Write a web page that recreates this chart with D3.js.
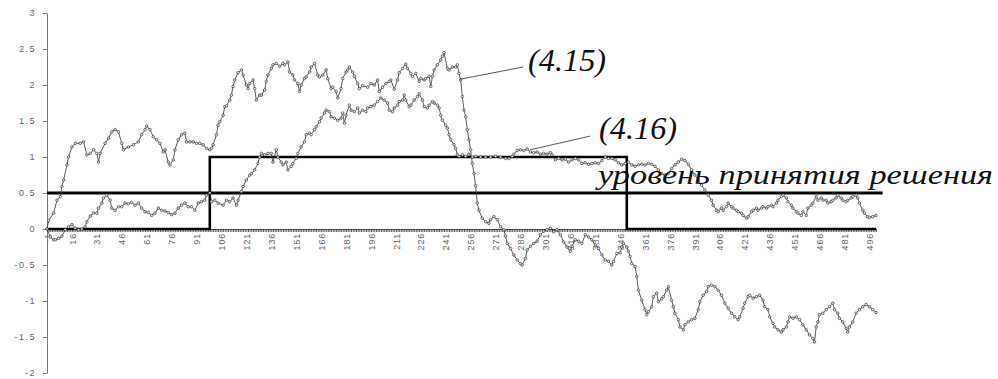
<!DOCTYPE html>
<html>
<head>
<meta charset="utf-8">
<script src="https://cdn.jsdelivr.net/npm/d3@7/dist/d3.min.js"></script>
<style>
  body { margin: 0; background: #fff; }
  svg { display: block; }
  .tick text { font-family: "Liberation Sans", Arial, sans-serif; }
  .label { font-family: "Liberation Serif", "Times New Roman", serif; font-style: italic; fill: #111; }
</style>
</head>
<body>
<svg id="chart" width="998" height="379"></svg>
<script>
// Category axis: step index 1..500, labelled every 15 steps
const categoryCount = 500;
const xTickLabels = [1, 16, 31, 46, 61, 76, 91, 106, 121, 136, 151, 166, 181, 196, 211, 226, 241,
  256, 271, 286, 301, 316, 331, 346, 361, 376, 391, 406, 421, 436, 451, 466, 481, 496];
const yTicks = [-2, -1.5, -1, -0.5, 0, 0.5, 1, 1.5, 2, 2.5, 3];

// Statistic (4.15): [step, value]
const series415 = [
  [1,0],[2,0.12],[5,0.22],[7,0.40],[9,0.45],[10,0.59],[11,0.68],[13,0.89],[14,1.0],[16,1.14],[18,1.19],[21,1.19],
  [23,1.21],[25,1.03],[27,1.05],[29,1.1],[31,1.05],[32,0.93],[33,1.05],[36,1.19],[38,1.26],[40,1.35],[42,1.38],
  [44,1.35],[46,1.19],[47,1.1],[50,1.14],[53,1.17],[56,1.21],[58,1.31],[60,1.38],[61,1.43],[63,1.38],[65,1.28],
  [67,1.24],[69,1.19],[71,1.07],[72,1.1],[74,0.93],[75,0.89],[77,0.96],[78,1.1],[80,1.24],[82,1.31],[84,1.33],
  [85,1.21],[87,1.21],[89,1.21],[91,1.19],[93,1.19],[95,1.17],[97,1.12],[99,1.1],[100,1.12],[101,1.17],[103,1.31],
  [104,1.44],[105,1.49],[107,1.58],[108,1.7],[109,1.71],[111,1.79],[112,1.86],[113,1.98],[114,2.07],[116,2.17],
  [118,2.21],[119,2.14],[121,2.0],[122,1.95],[123,2.02],[125,2.07],[126,1.95],[127,1.79],[129,1.86],[130,1.86],
  [132,1.93],[133,2.05],[134,2.14],[136,2.23],[137,2.28],[139,2.3],[141,2.26],[143,2.3],[144,2.28],[146,2.32],
  [147,2.18],[149,2.14],[150,2.07],[152,2.02],[153,1.91],[154,2.0],[156,2.09],[157,2.11],[159,2.18],[160,2.25],
  [162,2.3],[164,2.14],[165,2.11],[167,2.14],[169,2.21],[170,2.09],[172,1.95],[173,1.97],[175,1.91],[176,1.82],
  [178,1.95],[179,2.09],[181,2.18],[182,2.21],[183,2.25],[185,2.18],[186,2.12],[188,2.02],[189,1.95],[191,1.99],
  [194,1.97],[196,2.02],[198,2.0],[200,2.07],[201,1.91],[203,1.97],[205,2.02],[207,2.05],[208,2.07],[210,1.94],
  [212,2.07],[213,2.17],[215,2.23],[217,2.29],[218,2.23],[220,2.16],[221,2.12],[223,2.16],[225,2.05],[226,2.09],
  [228,2.07],[229,2.09],[231,2.12],[232,1.98],[233,2.12],[234,2.21],[236,2.28],[238,2.35],[239,2.4],[240,2.45],
  [242,2.23],[243,2.21],[245,2.25],[247,2.25],[248,2.28],[249,2.16],[250,2.07],[251,1.84],[252,1.65],[253,1.56],
  [254,1.38],[255,1.24],[256,1.1],[257,0.91],[258,0.77],[259,0.6],[260,0.36],[261,0.26],[263,0.15],[265,0.1],
  [267,0.08],[268,0.13],[270,0.17],[272,0.13],[274,0.03],[276,-0.01],[277,-0.1],[278,-0.2],[280,-0.27],[282,-0.36],
  [284,-0.43],[286,-0.48],[287,-0.5],[289,-0.41],[290,-0.29],[292,-0.24],[294,-0.2],[296,-0.17],[298,-0.08],
  [300,-0.03],[302,-0.01],[304,0.01],[306,-0.04],[308,-0.01],[310,-0.08],[312,-0.18],[314,-0.25],[316,-0.31],
  [317,-0.24],[319,-0.15],[321,-0.17],[323,-0.2],[325,-0.08],[327,-0.11],[329,-0.15],[331,-0.22],[333,-0.27],
  [335,-0.36],[337,-0.43],[339,-0.45],[341,-0.5],[342,-0.45],[344,-0.34],[346,-0.33],[347,-0.25],[348,-0.2],
  [350,-0.25],[351,-0.31],[352,-0.38],[353,-0.48],[355,-0.52],[356,-0.66],[357,-0.85],[359,-0.99],[361,-1.12],
  [362,-1.19],[363,-1.15],[365,-1.08],[366,-0.94],[368,-0.89],[369,-1.01],[371,-0.97],[372,-0.94],[374,-0.85],
  [375,-0.8],[377,-0.99],[378,-1.08],[379,-1.17],[381,-1.26],[382,-1.36],[384,-1.4],[385,-1.33],[387,-1.29],
  [389,-1.26],[391,-1.24],[393,-1.12],[394,-1.01],[396,-0.92],[398,-0.87],[399,-0.8],[401,-0.78],[403,-0.8],
  [405,-0.85],[407,-0.92],[409,-1.03],[411,-1.1],[413,-1.17],[415,-1.22],[417,-1.26],[418,-1.22],[420,-1.1],
  [421,-1.03],[423,-0.94],[424,-0.92],[426,-0.96],[428,-0.94],[430,-0.92],[432,-0.99],[433,-1.08],[435,-1.12],
  [436,-1.22],[438,-1.31],[439,-1.36],[441,-1.4],[443,-1.43],[444,-1.4],[446,-1.36],[447,-1.29],[448,-1.22],
  [450,-1.24],[452,-1.22],[454,-1.26],[456,-1.33],[458,-1.4],[460,-1.47],[462,-1.52],[463,-1.57],[464,-1.36],
  [465,-1.29],[466,-1.19],[468,-1.17],[470,-1.12],[472,-1.08],[474,-1.03],[475,-1.12],[477,-1.17],[478,-1.24],
  [480,-1.29],[482,-1.38],[483,-1.43],[484,-1.36],[486,-1.29],[488,-1.17],[490,-1.12],[492,-1.08],[494,-1.05],
  [496,-1.08],[498,-1.12],[500,-1.16]
];

// Statistic (4.16): [step, value]
const series416 = [
  [1,0],[3,-0.11],[5,-0.15],[6,-0.15],[8,-0.13],[10,-0.1],[12,-0.01],[14,0.03],[16,0.06],[18,0.01],[20,-0.01],
  [22,0],[24,0.03],[25,0.1],[27,0.18],[29,0.22],[31,0.22],[32,0.29],[34,0.36],[35,0.43],[37,0.47],[39,0.4],
  [40,0.29],[42,0.26],[44,0.31],[46,0.31],[48,0.36],[50,0.35],[52,0.37],[54,0.33],[56,0.36],[58,0.29],[60,0.24],
  [62,0.23],[64,0.19],[66,0.22],[68,0.29],[70,0.26],[72,0.25],[74,0.23],[76,0.2],[78,0.22],[80,0.29],[82,0.33],
  [84,0.36],[86,0.31],[88,0.31],[90,0.26],[92,0.36],[94,0.38],[96,0.4],[97,0.47],[99,0.5],[100,0.38],[102,0.4],
  [104,0.36],[107,0.33],[109,0.4],[111,0.38],[113,0.43],[115,0.33],[116,0.4],[118,0.52],[119,0.59],[121,0.68],
  [123,0.75],[124,0.77],[126,0.82],[128,0.91],[129,1.0],[130,1.05],[132,1.03],[134,1.05],[136,1.05],[137,0.93],
  [139,1.1],[140,1.0],[142,0.93],[143,0.89],[145,0.93],[146,0.82],[148,0.87],[149,0.91],[151,0.98],[152,1.05],
  [154,1.14],[156,1.21],[157,1.31],[159,1.33],[160,1.31],[162,1.38],[163,1.42],[165,1.49],[166,1.54],[168,1.61],
  [169,1.65],[171,1.63],[172,1.56],[174,1.54],[176,1.51],[178,1.54],[179,1.61],[180,1.47],[181,1.58],[183,1.72],
  [184,1.65],[186,1.63],[188,1.68],[189,1.61],[191,1.65],[193,1.63],[194,1.68],[196,1.7],[198,1.72],[200,1.77],
  [202,1.82],[204,1.79],[206,1.75],[207,1.65],[209,1.63],[210,1.68],[212,1.72],[213,1.77],[215,1.79],[216,1.86],
  [217,1.79],[219,1.7],[220,1.72],[222,1.79],[224,1.84],[225,1.88],[227,1.79],[228,1.7],[230,1.68],[231,1.72],
  [233,1.77],[234,1.75],[236,1.72],[237,1.68],[238,1.58],[239,1.51],[241,1.44],[242,1.4],[243,1.31],[244,1.24],
  [246,1.17],[247,1.12],[248,1.03],[249,1.01],[251,1.03],[253,1.01],[255,1.04],[257,1.0],[259,1.01],[262,1.0],
  [265,1.0],[268,1.0],[271,1.01],[274,1.0],[277,0.98],[279,0.98],[281,1.01],[282,1.04],[284,1.09],[286,1.1],
  [288,1.09],[290,1.11],[292,1.07],[294,1.06],[296,1.07],[298,1.04],[300,1.05],[302,1.04],[304,1.06],[305,1.03],
  [307,0.96],[309,0.98],[311,0.96],[313,0.97],[315,0.93],[317,0.96],[319,0.98],[321,0.96],[323,0.91],[325,0.92],
  [327,0.9],[329,0.91],[331,0.92],[333,0.91],[335,0.95],[337,1.0],[339,0.98],[341,0.98],[343,0.96],[345,0.92],
  [347,0.89],[349,0.91],[351,0.93],[353,0.89],[355,0.87],[357,0.89],[359,0.9],[361,0.89],[363,0.91],[365,0.9],
  [367,0.87],[369,0.82],[371,0.77],[373,0.75],[375,0.77],[377,0.84],[379,0.89],[381,0.93],[383,0.97],[385,0.95],
  [387,0.9],[389,0.82],[391,0.75],[393,0.68],[395,0.61],[397,0.54],[399,0.47],[401,0.4],[402,0.33],[404,0.26],
  [405,0.24],[407,0.29],[408,0.26],[410,0.31],[411,0.36],[413,0.31],[414,0.29],[416,0.26],[417,0.24],[419,0.22],
  [420,0.19],[422,0.15],[423,0.17],[425,0.24],[426,0.26],[428,0.29],[429,0.26],[431,0.29],[432,0.31],[434,0.29],
  [435,0.31],[437,0.33],[438,0.31],[440,0.36],[441,0.4],[443,0.45],[444,0.47],[446,0.43],[447,0.38],[449,0.33],
  [450,0.29],[452,0.24],[453,0.22],[455,0.19],[456,0.24],[458,0.19],[459,0.29],[461,0.33],[462,0.36],[464,0.45],
  [465,0.4],[467,0.43],[468,0.4],[470,0.4],[471,0.36],[473,0.38],[474,0.4],[476,0.43],[477,0.47],[479,0.43],
  [480,0.4],[482,0.38],[483,0.4],[485,0.43],[486,0.45],[488,0.47],[489,0.43],[490,0.36],[492,0.26],[493,0.22],
  [495,0.17],[496,0.16],[498,0.17],[500,0.19]
];

// True change indicator: 0 before step 99, 1 until step 350, 0 afterwards
const changeIndicator = [[1,0],[99,1],[350,0],[500,0]];

// Decision threshold
const decisionLevel = 0.5;
const decisionSpan = [1, 504];
const decisionLabel = "уровень принятия решения";
const decisionLabelAt = [332.7, 0.625];

// Curve labels with leader lines: anchor on the curve, label position
const curveLabels = [
  { text: "(4.15)", anchor: [249.6, 2.08], leaderEnd: [287.6, 2.25], at: [290.6, 2.19], width: 78 },
  { text: "(4.16)", anchor: [291.8, 1.10], leaderEnd: [327.9, 1.29], at: [333.3, 1.25], width: 78 }
];

const svg = d3.select("#chart");

const x = d3.scaleLinear().domain([1, categoryCount]).range([47, 876]);
const y = d3.scaleLinear().domain([-2, 3]).range([373, 13]);

// Value axis
const yAxis = svg.append("g")
  .attr("transform", `translate(${x(1)},0)`)
  .call(d3.axisLeft(y).tickValues(yTicks).tickSizeInner(4).tickSizeOuter(0).tickPadding(7)
    .tickFormat(d => String(d)));
yAxis.select(".domain").attr("stroke", "#7a7a7a");
yAxis.selectAll(".tick line").attr("stroke", "#7a7a7a");
yAxis.selectAll(".tick text")
  .attr("fill", "#666").style("font-size", "9px").style("letter-spacing", "1.5px");

// Category axis crossing at zero, a tick for every step
const categories = d3.range(1, categoryCount + 1);
const xAxis = svg.append("g")
  .attr("transform", `translate(0,${y(0)})`)
  .call(d3.axisBottom(x).tickValues(categories).tickSizeInner(3).tickSizeOuter(0)
    .tickFormat(d => xTickLabels.includes(d) ? String(d) : ""));
xAxis.select(".domain").attr("stroke", "#555");
xAxis.selectAll(".tick line").attr("stroke", "#333").attr("stroke-width", 0.8);
xAxis.selectAll(".tick text")
  .attr("fill", "#666").style("font-size", "9px").style("letter-spacing", "0.8px")
  .attr("text-anchor", "end")
  .attr("transform", "rotate(-90)")
  .attr("x", -4).attr("y", 0).attr("dy", "0.35em");

// Decision level
svg.append("line")
  .attr("x1", x(decisionSpan[0])).attr("x2", x(decisionSpan[1]))
  .attr("y1", y(decisionLevel)).attr("y2", y(decisionLevel))
  .attr("stroke", "#000").attr("stroke-width", 3.2);

// Change indicator
svg.append("path")
  .datum(changeIndicator)
  .attr("fill", "none").attr("stroke", "#000").attr("stroke-width", 2.6)
  .attr("d", d3.line().x(d => x(d[0])).y(d => y(d[1])).curve(d3.curveStepAfter));

// Statistic curves with markers
const line = d3.line().x(d => x(d[0])).y(d => y(d[1]));
[series415, series416].forEach(s => {
  svg.append("path").datum(s)
    .attr("fill", "none").attr("stroke", "#333").attr("stroke-width", 0.8)
    .attr("d", line);
  svg.append("g").selectAll("circle").data(s).join("circle")
    .attr("cx", d => x(d[0])).attr("cy", d => y(d[1])).attr("r", 1.3)
    .attr("fill", "#e6e6e6").attr("stroke", "#222").attr("stroke-width", 0.6);
});

// Curve labels
curveLabels.forEach(c => {
  svg.append("line")
    .attr("x1", x(c.anchor[0])).attr("y1", y(c.anchor[1]))
    .attr("x2", x(c.leaderEnd[0])).attr("y2", y(c.leaderEnd[1]))
    .attr("stroke", "#444").attr("stroke-width", 0.9);
  svg.append("text").attr("class", "label")
    .attr("x", x(c.at[0])).attr("y", y(c.at[1]))
    .style("font-size", "31px")
    .attr("textLength", c.width).attr("lengthAdjust", "spacingAndGlyphs")
    .text(c.text);
});

// Decision level label
svg.append("text").attr("class", "label")
  .attr("x", x(decisionLabelAt[0])).attr("y", y(decisionLabelAt[1]))
  .style("font-size", "28px")
  .attr("textLength", 395).attr("lengthAdjust", "spacingAndGlyphs")
  .text(decisionLabel);
</script>
</body>
</html>
